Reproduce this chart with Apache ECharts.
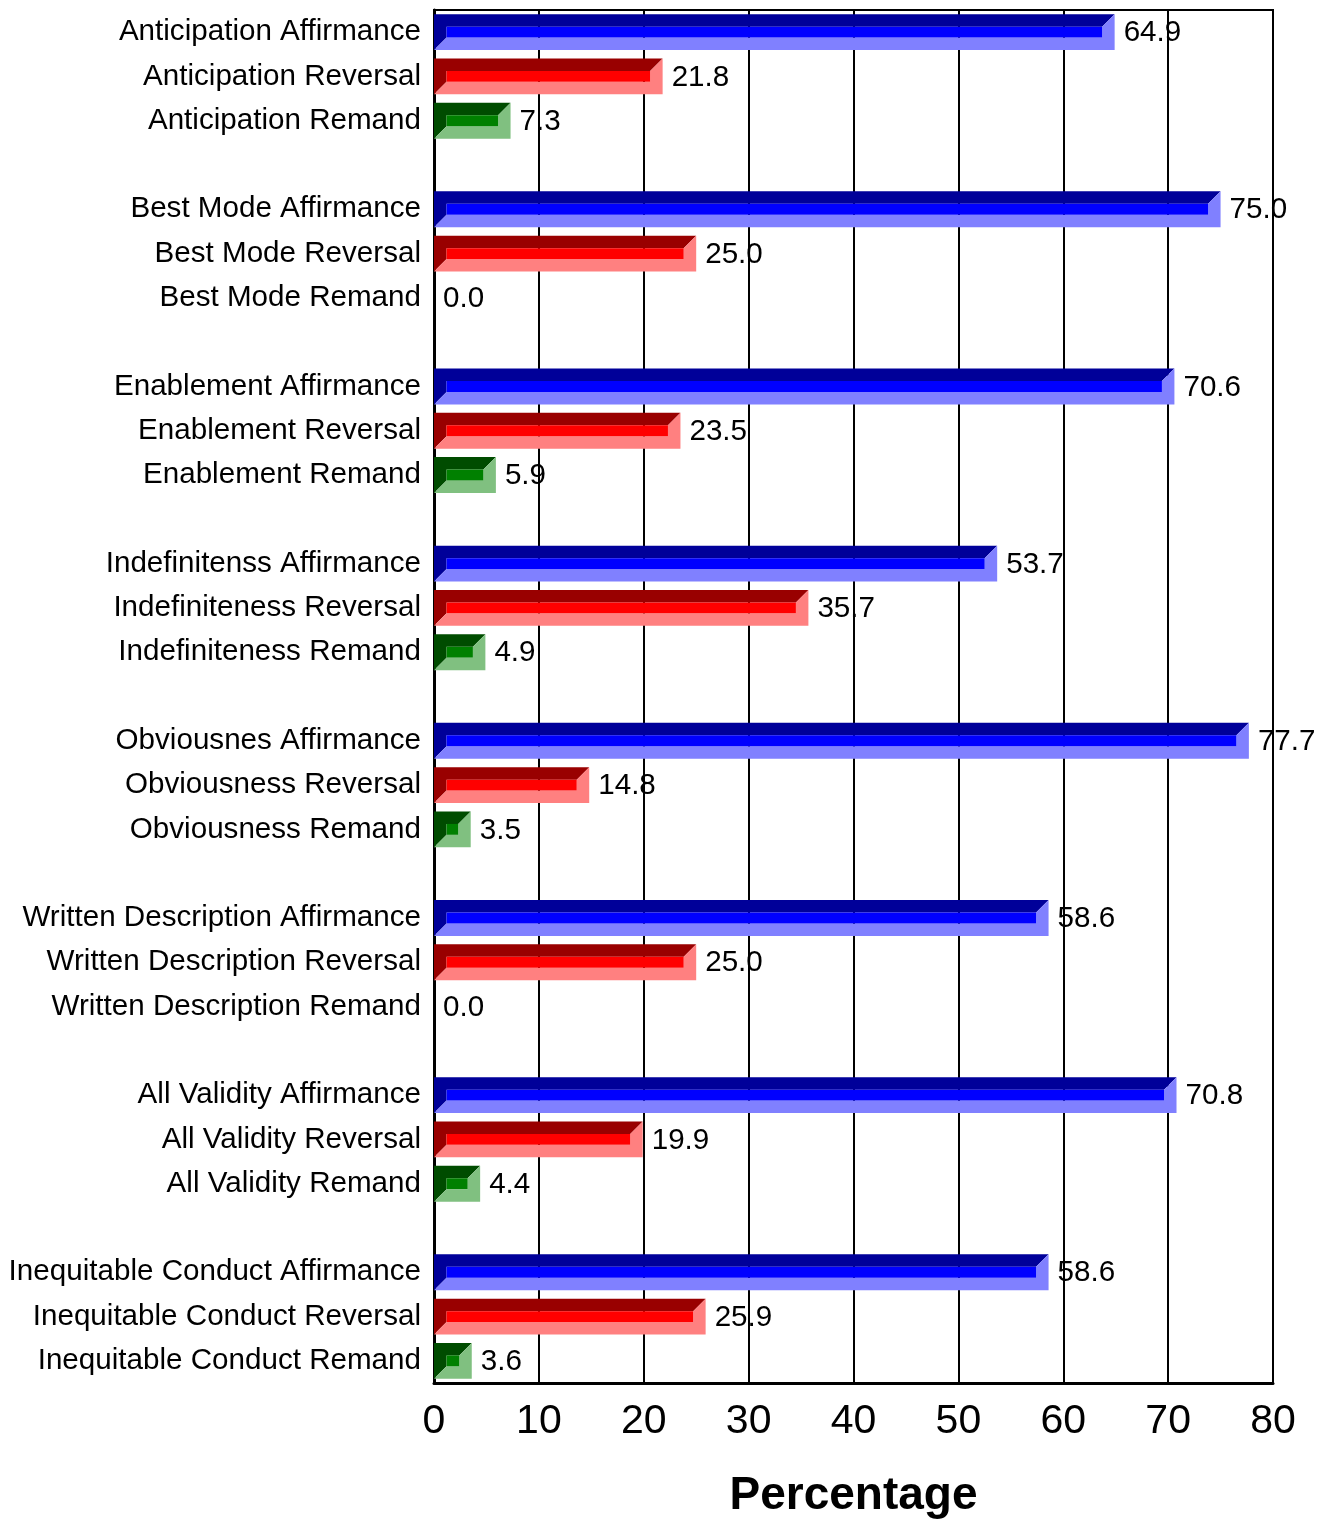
<!DOCTYPE html>
<html><head><meta charset="utf-8">
<script src="https://cdn.jsdelivr.net/npm/echarts@6/dist/echarts.min.js"></script>
<style>html,body{margin:0;padding:0;background:#fff}#c{width:1320px;height:1522px}</style>
</head><body><div id="c"></div>
<script>
const categories = [
  "Anticipation Affirmance","Anticipation Reversal","Anticipation Remand","",
  "Best Mode Affirmance","Best Mode Reversal","Best Mode Remand","",
  "Enablement Affirmance","Enablement Reversal","Enablement Remand","",
  "Indefinitenss Affirmance","Indefiniteness Reversal","Indefiniteness Remand","",
  "Obviousnes Affirmance","Obviousness Reversal","Obviousness Remand","",
  "Written Description Affirmance","Written Description Reversal","Written Description Remand","",
  "All Validity Affirmance","All Validity Reversal","All Validity Remand","",
  "Inequitable Conduct Affirmance","Inequitable Conduct Reversal","Inequitable Conduct Remand"
];
const affirmance = [64.9, 75.0, 70.6, 53.7, 77.7, 58.6, 70.8, 58.6];
const reversal   = [21.8, 25.0, 23.5, 35.7, 14.8, 25.0, 19.9, 25.9];
const remand     = [7.3, 0.0, 5.9, 4.9, 3.5, 0.0, 4.4, 3.6];
const xTicks = [0,10,20,30,40,50,60,70,80];

const palettes = [
  {dark:'#000099', mid:'#0000FF', light:'#8080FF'},
  {dark:'#990000', mid:'#FF0000', light:'#FF8080'},
  {dark:'#004C00', mid:'#008000', light:'#80C080'}
];
const data = [];
[affirmance, reversal, remand].forEach((arr, s) => {
  arr.forEach((v, g) => data.push([v, g*4 + s, s]));
});

const FONT = '"Liberation Sans", Arial, sans-serif';

function renderItem(params, api) {
  const v = api.value(0), cat = api.value(1), s = api.value(2);
  const p0 = api.coord([0, cat]);
  const p1 = api.coord([v, cat]);
  const band = api.size([0, 1])[1];
  const h = band * 0.81;
  const x0 = p0[0], x1 = p1[0], y0 = p0[1] - h/2, y1 = p0[1] + h/2;
  const w = x1 - x0;
  const pal = palettes[s];
  const children = [];
  if (w > 0.5) {
    const b = Math.min(12.5, w/2, h/2);
    const ix0 = x0 + b, ix1 = x1 - b, iy0 = y0 + b, iy1 = y1 - b;
    children.push({type:'polygon', shape:{points:[[x0,y0],[x1,y0],[ix1,iy0],[ix0,iy0],[ix0,iy1],[x0,y1]]}, style:{fill:pal.dark}});
    children.push({type:'polygon', shape:{points:[[x1,y0],[x1,y1],[x0,y1],[ix0,iy1],[ix1,iy1],[ix1,iy0]]}, style:{fill:pal.light}});
    if (ix1 > ix0) children.push({type:'rect', shape:{x:ix0, y:iy0, width:ix1-ix0, height:iy1-iy0}, style:{fill:pal.mid}});
  }
  children.push({type:'text', x: x1 + 9, y: p0[1] + 1, style:{text: v.toFixed(1), fill:'#000', font:'29.6px ' + FONT, verticalAlign:'middle', align:'left'}, z2: 10});
  return {type:'group', children};
}

const chart = echarts.init(document.getElementById('c'), null, {renderer:'canvas'});
chart.setOption({
  animation:false,
  backgroundColor:'#fff',
  grid:{left:434, right:47, top:10, bottom:139, containLabel:false, outerBoundsMode:'none', show:true, borderColor:'#000', borderWidth:2},
  xAxis:{type:'value', min:0, max:80, interval:10,
    axisLine:{show:true, lineStyle:{color:'#000', width:3}},
    axisTick:{show:false},
    splitLine:{show:true, lineStyle:{color:'#000', width:2}},
    axisLabel:{color:'#000', fontSize:41, fontFamily:FONT, margin:18,
      formatter:(val)=> xTicks.includes(val) ? String(val) : ''},
    name:'Percentage', nameLocation:'middle', nameGap:90,
    nameTextStyle:{color:'#000', fontSize:46, fontWeight:'bold', fontFamily:FONT}
  },
  yAxis:{type:'category', data:categories, inverse:true,
    axisLine:{show:true, lineStyle:{color:'#000', width:3}},
    axisTick:{show:false},
    splitLine:{show:false},
    axisLabel:{color:'#000', fontSize:29.6, fontFamily:FONT, margin:13, interval:0, padding:[6,0,0,0]}
  },
  series:[{type:'custom', renderItem, encode:{x:0, y:1}, data, clip:false, z:5}]
});
</script></body></html>
